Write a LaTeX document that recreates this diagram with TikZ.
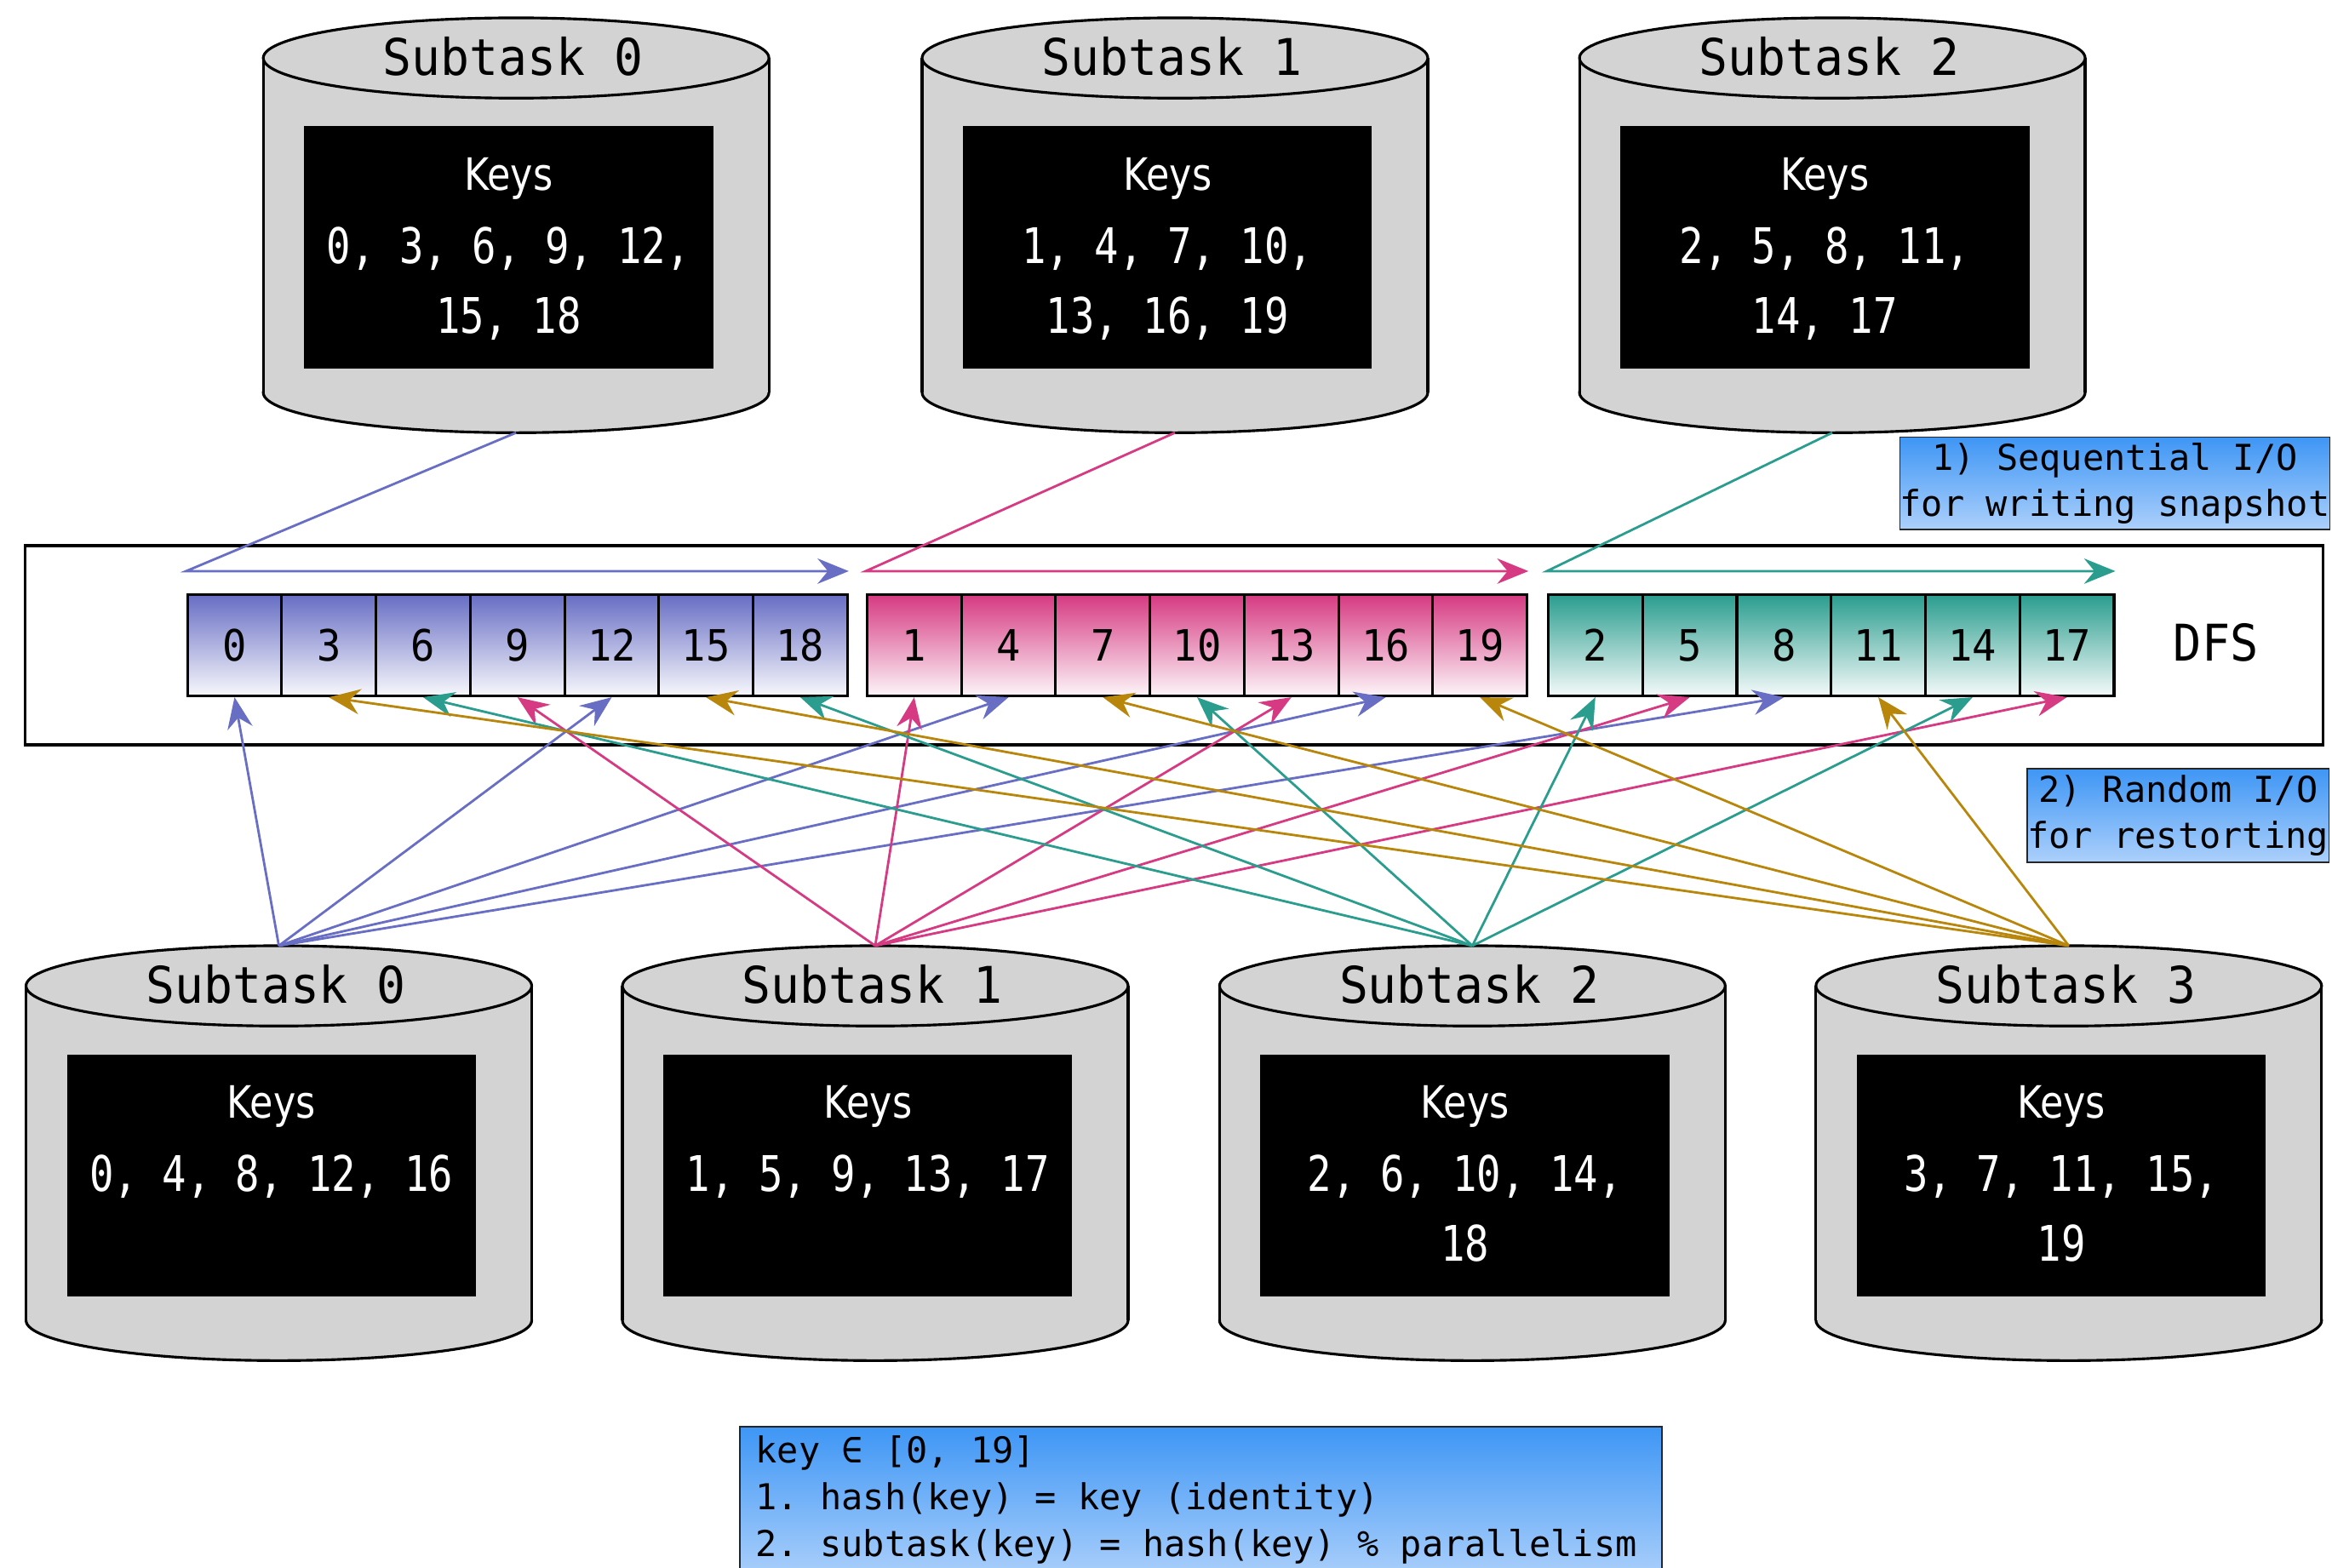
\documentclass[tikz,border=0pt]{standalone}
\usepackage{fontspec}
\usetikzlibrary{arrows.meta,calc}
\newfontfamily\titlefont[FakeStretch=0.95]{DejaVu Sans Mono}
\newfontfamily\keynumfont[FakeStretch=0.82]{DejaVu Sans Mono}
\newfontfamily\cellfont[FakeStretch=0.93]{DejaVu Sans Mono}
\newfontfamily\labelfont{DejaVu Sans Mono}
\newfontfamily\keysfont[FakeStretch=0.85]{DejaVu Sans}
\frenchspacing
\definecolor{cblue}{RGB}{104,110,196}
\definecolor{cpink}{RGB}{214,58,130}
\definecolor{cteal}{RGB}{42,157,143}
\definecolor{cgold}{RGB}{184,134,11}
\definecolor{cylgray}{RGB}{211,211,211}
\definecolor{lbltop}{RGB}{62,150,245}
\definecolor{lblbot}{RGB}{172,208,251}

\tikzset{
  cylbound/.style={shape=rectangle,minimum width=340pt,minimum height=279pt,inner sep=0pt,outer sep=0pt},
  cylline/.style={line width=1.8pt,draw=black},
  keybox/.style={fill=black,minimum width=275pt,minimum height=163pt,inner sep=0pt},
  titletext/.style={font=\titlefont\fontsize{34}{34}\selectfont,inner sep=0pt,text depth=0pt},
  keystext/.style={font=\keysfont\fontsize{30}{30}\selectfont,text=white,inner sep=0pt,text depth=0pt},
  numtext/.style={font=\keynumfont\fontsize{33}{33}\selectfont,text=white,inner sep=0pt,text depth=0pt},
  cell/.style={draw=black,line width=1.8pt,minimum width=63.4pt,minimum height=68pt,inner sep=0pt,text depth=0pt,
    font=\cellfont\fontsize{29}{29}\selectfont},
  lblbox/.style={draw=black!85,line width=1pt,top color=lbltop,bottom color=lblbot,inner sep=0pt,
    font=\labelfont\fontsize{24}{31}\selectfont,align=center},
  lbltext/.style={font=\labelfont\fontsize{24}{31}\selectfont,inner sep=0pt},
  arr/.style={line width=1.6pt,-{Stealth[length=21pt,width=17pt,inset=7pt]}},
}

\newcommand\dbcyl[6]{%
  \node[cylbound] (#1) at (#2,#3+139.5) {};
  \draw[cylline,fill=cylgray] ($(#1.south)+(0,-27)$) ellipse [x radius=170pt, y radius=27pt];
  \fill[cylgray] ($(#1.north west)+(0,27)$) rectangle ($(#1.south east)+(0,-27)$);
  \draw[cylline] ($(#1.north west)+(0,27)$) -- ($(#1.south west)+(0,-27)$);
  \draw[cylline] ($(#1.north east)+(0,27)$) -- ($(#1.south east)+(0,-27)$);
  \draw[cylline,fill=cylgray] ($(#1.north)+(0,27)$) ellipse [x radius=170pt, y radius=27pt];
  \node[keybox] (#1box) at (#2-5,#3+154.5) {};
  \node[titletext] (#1title) at (#2-2,#3+26) {#4};
  \node[keystext] (#1keys) at (#2-5,#3+105) {Keys};
  \node[numtext] (#1la) at (#2-5,#3+153) {#5};
  \node[numtext] (#1lb) at (#2-5,#3+200) {#6};
}

\begin{document}
\begin{tikzpicture}[x=1pt,y=-1pt]
\useasboundingbox (0,0) rectangle (1568,1054);
\clip (0,0) rectangle (1568,1054);
\fill[white] (0,0) rectangle (1568,1054);

% DFS box
\node[draw=black,line width=2pt,minimum width=1545pt,minimum height=134pt,inner sep=0pt] (dfs) at (789.5,434) {};
\node[titletext,font=\cellfont\fontsize{34}{34}\selectfont] (dfslabel) at (1490,432) {DFS};

% cells
\foreach \i in {0,...,6}{
  \pgfmathtruncatemacro\k{3*\i}
  \node[cell,top color=cblue,bottom color=cblue!5!white] (k\k) at ({157.7+63.4*\i},434) {\k};
  \pgfmathtruncatemacro\kk{3*\i+1}
  \node[cell,top color=cpink,bottom color=cpink!5!white] (k\kk) at ({614.7+63.4*\i},434) {\kk};
}
\foreach \i in {0,...,5}{
  \pgfmathtruncatemacro\k{3*\i+2}
  \node[cell,top color=cteal,bottom color=cteal!5!white] (k\k) at ({1072.7+63.4*\i},434) {\k};
}

% labels
\node[lblbox,minimum width=288pt,minimum height=62pt] (seqlbl) at (1422,325) {1) Sequential I/O\\for writing snapshot};
\node[lblbox,minimum width=203pt,minimum height=63pt] (rndlbl) at (1464.5,548.5) {2) Random I/O\\for restorting};
\node[lblbox,anchor=north west,minimum width=620pt,minimum height=102pt] (formula) at (497,959) {};
\node[lbltext,anchor=base west] (f1) at (508,984) {key ∈ [0, 19]};
\node[lbltext,anchor=base west] (f2) at (508,1015.5) {1. hash(key) = key (identity)};
\node[lbltext,anchor=base west] (f3) at (508,1047) {2. subtask(key) = hash(key) \% parallelism};

% cylinders
\dbcyl{t0}{347}{12}{Subtask 0}{0, 3, 6, 9, 12,}{15, 18}
\dbcyl{t1}{790}{12}{Subtask 1}{1, 4, 7, 10,}{13, 16, 19}
\dbcyl{t2}{1232}{12}{Subtask 2}{2, 5, 8, 11,}{14, 17}
\dbcyl{b0}{187.5}{636}{Subtask 0}{0, 4, 8, 12, 16}{}
\dbcyl{b1}{588.5}{636}{Subtask 1}{1, 5, 9, 13, 17}{}
\dbcyl{b2}{990}{636}{Subtask 2}{2, 6, 10, 14,}{18}
\dbcyl{b3}{1391}{636}{Subtask 3}{3, 7, 11, 15,}{19}

% sequential writes
\draw[arr,cblue] (t0.south) -- ([yshift=15pt]k0.north west) -- ([yshift=15pt]k18.north east);
\draw[arr,cpink] (t1.south) -- ([yshift=15pt]k1.north west) -- ([yshift=15pt]k19.north east);
\draw[arr,cteal] (t2.south) -- ([yshift=15pt]k2.north west) -- ([yshift=15pt]k17.north east);

% random reads
\foreach \t in {0,4,8,12,16}{\draw[arr,cblue] (b0.north) -- (k\t.south);}
\foreach \t in {1,5,9,13,17}{\draw[arr,cpink] (b1.north) -- (k\t.south);}
\foreach \t in {2,6,10,14,18}{\draw[arr,cteal] (b2.north) -- (k\t.south);}
\foreach \t in {3,7,11,15,19}{\draw[arr,cgold] (b3.north) -- (k\t.south);}
\end{tikzpicture}
\end{document}
